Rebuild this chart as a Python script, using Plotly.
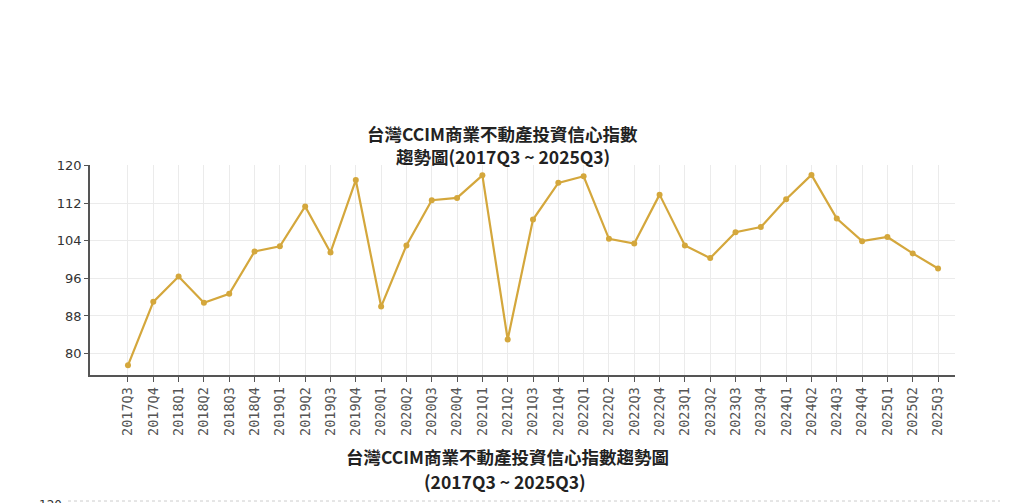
import plotly.graph_objects as go

quarters = ["2017Q3", "2017Q4", "2018Q1", "2018Q2", "2018Q3", "2018Q4",
            "2019Q1", "2019Q2", "2019Q3", "2019Q4", "2020Q1", "2020Q2",
            "2020Q3", "2020Q4", "2021Q1", "2021Q2", "2021Q3", "2021Q4",
            "2022Q1", "2022Q2", "2022Q3", "2022Q4", "2023Q1", "2023Q2",
            "2023Q3", "2023Q4", "2024Q1", "2024Q2", "2024Q3", "2024Q4",
            "2025Q1", "2025Q2", "2025Q3"]
index_values = [77.5, 91.0, 96.4, 90.8, 92.7, 101.7,
                102.8, 111.3, 101.5, 116.9, 90.0, 103.0,
                112.6, 113.1, 117.9, 83.0, 108.5, 116.3,
                117.7, 104.4, 103.4, 113.8, 103.0, 100.3,
                105.8, 106.9, 112.8, 118.0, 108.7, 103.9,
                104.8, 101.3, 98.1]
y_ticks = [80, 88, 96, 104, 112, 120]
title_line1 = "台灣CCIM商業不動產投資信心指數"
title_line2 = "趨勢圖(2017Q3 ~ 2025Q3)"
caption_line1 = "台灣CCIM商業不動產投資信心指數趨勢圖"
caption_line2 = "(2017Q3 ~ 2025Q3)"

# page body has an 8px margin; work in page pixels and shift
OFF = 8
W, H = 1024 - OFF, 503 - OFF
L, R, T, B = 90, 955, 165, 375
PW, PH = R - L, B - T


def px(x):
    return (x - L) / PW


def py(y):
    return (B - y) / PH


xs = list(range(len(quarters)))
GOLD = "#D4A73C"

fig = go.Figure()
fig.add_trace(go.Scatter(
    x=xs, y=index_values, mode="lines+markers",
    line=dict(color=GOLD, width=2.2),
    marker=dict(color=GOLD, size=6),
    showlegend=False, hoverinfo="skip",
))

fig.update_layout(
    width=W, height=H, autosize=False,
    margin=dict(l=L - OFF, r=W - (R - OFF), t=T - OFF, b=H - (B - OFF), pad=0),
    paper_bgcolor="white", plot_bgcolor="white",
    xaxis=dict(
        range=[-1.5, len(quarters) - 0.33],
        tickmode="array", tickvals=xs, ticktext=quarters,
        tickangle=-90, ticks="outside", ticklen=5, tickcolor="#555",
        tickfont=dict(family="DejaVu Sans Mono", size=13.5, color="#555"),
        showgrid=True, gridcolor="#EBEBEB", gridwidth=1,
        showline=True, linecolor="#555", linewidth=1.5,
        zeroline=False, fixedrange=True,
    ),
    yaxis=dict(
        range=[75.45, 120.1],
        tickmode="array", tickvals=y_ticks,
        ticks="outside", ticklen=4, tickcolor="#555",
        tickfont=dict(family="DejaVu Sans", size=13, color="#333"),
        showgrid=True, gridcolor="#EBEBEB", gridwidth=1,
        showline=True, linecolor="#555", linewidth=1.5,
        zeroline=False, fixedrange=True,
    ),
    font=dict(family="Noto Sans CJK TC"),
)

title_font = dict(family="Noto Sans CJK TC", size=17.5, color="#222")
cap_font = dict(family="Noto Sans CJK TC", size=17.5, color="#222")
annotations = [
    dict(text="<b>" + title_line1 + "</b>", x=px(502), y=py(133),
         xref="paper", yref="paper", xanchor="center", yanchor="middle",
         showarrow=False, font=title_font),
    dict(text="<b>" + title_line2 + "</b>", x=px(503), y=py(157),
         xref="paper", yref="paper", xanchor="center", yanchor="middle",
         showarrow=False, font=title_font),
    dict(text="<b>" + caption_line1 + "</b>", x=px(507), y=py(456),
         xref="paper", yref="paper", xanchor="center", yanchor="middle",
         showarrow=False, font=cap_font),
    dict(text="<b>" + caption_line2 + "</b>", x=px(505), y=py(481),
         xref="paper", yref="paper", xanchor="center", yanchor="middle",
         showarrow=False, font=cap_font),
    dict(text="120", x=px(64), y=py(496),
         xref="paper", yref="paper", xanchor="right", yanchor="top",
         showarrow=False,
         font=dict(family="DejaVu Sans", size=12, color="#333")),
]
fig.update_layout(annotations=annotations)

shapes = [
    dict(type="rect", xref="paper", yref="paper",
         x0=px(1016), x1=px(1026), y0=py(-2), y1=py(506),
         fillcolor="#E2E2E2", line=dict(width=0), layer="above"),
    dict(type="line", xref="paper", yref="paper",
         x0=px(68), x1=px(1000), y0=py(501), y1=py(501),
         line=dict(color="#CCCCCC", width=1, dash="dot")),
]
fig.update_layout(shapes=shapes)

fig.write_html("out.html")
